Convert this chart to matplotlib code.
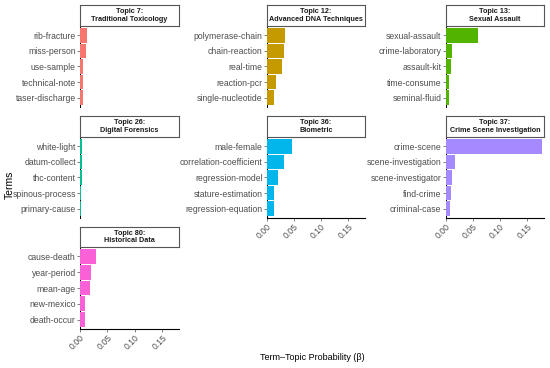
import matplotlib
matplotlib.use("Agg")
import matplotlib.pyplot as plt

plt.rcParams["font.family"] = ["Liberation Sans", "DejaVu Sans"]

# ── data (top 5 terms per topic, beta values) ──
t7_terms = ["rib-fracture", "miss-person", "use-sample", "technical-note", "taser-discharge"]
t7_beta = [0.0135, 0.0104, 0.0060, 0.0055, 0.0055]

t12_terms = ["polymerase-chain", "chain-reaction", "real-time", "reaction-pcr", "single-nucleotide"]
t12_beta = [0.0340, 0.0320, 0.0280, 0.0165, 0.0130]

t13_terms = ["sexual-assault", "crime-laboratory", "assault-kit", "time-consume", "seminal-fluid"]
t13_beta = [0.0600, 0.0116, 0.0090, 0.0067, 0.0067]

t26_terms = ["white-light", "datum-collect", "thc-content", "spinous-process", "primary-cause"]
t26_beta = [0.0032, 0.0031, 0.0028, 0.0027, 0.0026]

t36_terms = ["male-female", "correlation-coefficient", "regression-model", "stature-estimation", "regression-equation"]
t36_beta = [0.0460, 0.0310, 0.0200, 0.0140, 0.0135]

t37_terms = ["crime-scene", "scene-investigation", "scene-investigator", "find-crime", "criminal-case"]
t37_beta = [0.1780, 0.0165, 0.0120, 0.0098, 0.0080]

t80_terms = ["cause-death", "year-period", "mean-age", "new-mexico", "death-occur"]
t80_beta = [0.0290, 0.0210, 0.0180, 0.0098, 0.0086]

titles = ["Topic 7:\nTraditional Toxicology", "Topic 12:\nAdvanced DNA Techniques",
          "Topic 13:\nSexual Assault", "Topic 26:\nDigital Forensics", "Topic 36:\nBiometric",
          "Topic 37:\nCrime Scene Investigation", "Topic 80:\nHistorical Data"]
colors = ["#F8766D", "#C49A00", "#53B400", "#00C094", "#00B6EB", "#A58AFF", "#FB61D7"]
x_ticks = [0.00, 0.05, 0.10, 0.15]

topics = [(t7_terms, t7_beta), (t12_terms, t12_beta), (t13_terms, t13_beta),
          (t26_terms, t26_beta), (t36_terms, t36_beta), (t37_terms, t37_beta),
          (t80_terms, t80_beta)]

# ── layout in pixels (550 x 368 canvas) ──
W, H = 550, 368
col_x = [(80, 179), (266.7, 365), (445.7, 544)]
row_y = [(5, 26, 107), (116, 137, 218), (227, 247, 329)]  # strip top, panel top, panel bottom

fig = plt.figure(figsize=(5.5, 3.68), dpi=100)
tick_grey = "#4D4D4D"

for i, ((terms, beta), title, color) in enumerate(zip(topics, titles, colors)):
    r, c = divmod(i, 3)
    x0, x1 = col_x[c]
    s_top, p_top, p_bot = row_y[r]

    ax = fig.add_axes([x0 / W, 1 - p_bot / H, (x1 - x0) / W, (p_bot - p_top) / H])
    ypos = range(len(terms))
    ax.barh(ypos, beta, height=0.93, color=color, linewidth=0, zorder=3)
    ax.set_yticks(list(ypos))
    ax.set_yticklabels(terms)
    ax.set_ylim(len(terms) - 0.4, -0.6)
    ax.set_xlim(0, 0.181)
    for side in ["top", "right"]:
        ax.spines[side].set_visible(False)
    ax.spines["left"].set_linewidth(0.7)
    ax.tick_params(axis="y", labelsize=6.2, colors=tick_grey, length=2, width=0.5, pad=1)

    # x axis only on the bottom panel of each column
    bottom_panel = (i + 3) >= len(topics)
    if bottom_panel:
        ax.set_xticks(x_ticks)
        ax.set_xticklabels([f"{t:.2f}" for t in x_ticks], rotation=45, ha="right",
                           va="top", rotation_mode="anchor")
        ax.tick_params(axis="x", labelsize=6.2, colors=tick_grey, length=2, width=0.5, pad=1)
        ax.spines["bottom"].set_linewidth(0.8)
    else:
        ax.set_xticks([])
        ax.spines["bottom"].set_visible(False)

    # facet strip
    sx = fig.add_axes([x0 / W, 1 - p_top / H, (x1 - x0) / W, (p_top - s_top) / H])
    sx.set_xticks([])
    sx.set_yticks([])
    for sp in sx.spines.values():
        sp.set_edgecolor("#555555")
        sp.set_linewidth(0.8)
    sx.text(0.5, 0.5, title, ha="center", va="center", fontsize=5.2,
            fontweight="bold", color="#1A1A1A", linespacing=1.1, transform=sx.transAxes)

fig.text(10 / W, 1 - 185 / H, "Terms", rotation=90, ha="center", va="center", fontsize=7.5)
fig.text(312 / W, 1 - 357 / H, "Term\u2013Topic Probability (\u03b2)", ha="center",
         va="center", fontsize=6.5)

fig.savefig("out.png", dpi=100)
